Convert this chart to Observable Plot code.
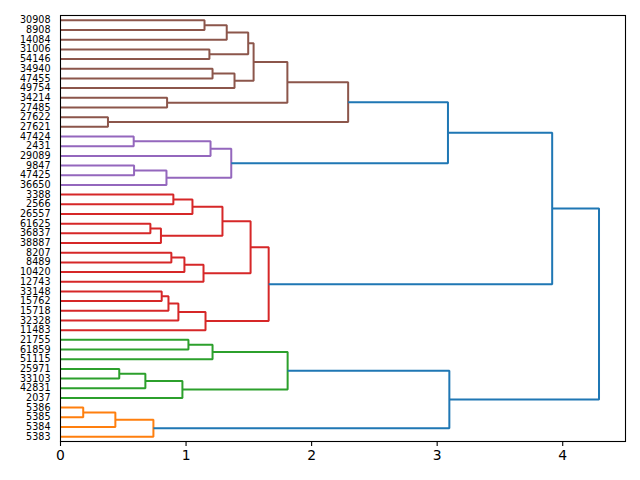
<!DOCTYPE html>
<html><head><meta charset="utf-8">
<script src="https://cdn.jsdelivr.net/npm/d3@7"></script>
<script src="https://cdn.jsdelivr.net/npm/@observablehq/plot@0.6"></script>
<style>body{margin:0;background:#fff} svg{display:block}</style>
</head><body><div id="chart"></div>
<script>
// Leaves, top to bottom
const leaves = ["30908","8908","14084","31006","54146","34940","47455","49754","34214","27485","27622","27621",
  "47424","2431","29089","9847","47425","36650",
  "3388","2566","26557","61625","36837","38887","8207","8489","10420","12743","33148","15762","15718","32328","11483",
  "21755","61859","51115","25971","33103","42831","2037",
  "5386","5385","5384","5383"];
// Linkage: node ids < 44 are leaves, 44+k is merge k
const mergeA = [0,44,3,45,5,48,47,8,50,10,52, 12,55,15,57,56, 54, 18,61,21,63,62,24,66,67,65,28,70,71,72,69, 60, 33,76,36,78,79,77, 40,82,83, 81,75];
const mergeB = [1,2,4,46,6,7,49,9,51,11,53, 13,14,16,17,58, 59, 19,20,22,23,64,25,26,27,68,29,30,31,32,73, 74, 34,35,37,38,39,80, 41,42,43, 84,85];
const mergeHeight = [1.147,1.324,1.186,1.495,1.211,1.386,1.538,0.849,1.807,0.378,2.291,
  0.583,1.195,0.586,0.844,1.360,
  3.086,
  0.899,1.051,0.716,0.800,1.290,0.883,0.987,1.139,1.514,0.806,0.860,0.939,1.155,1.658,
  3.916,
  1.019,1.211,0.468,0.676,0.971,1.809,
  0.181,0.437,0.740,
  3.097,4.289];
const mergeCluster = ["C5","C5","C5","C5","C5","C5","C5","C5","C5","C5","C5",
  "C4","C4","C4","C4","C4",
  "C0",
  "C3","C3","C3","C3","C3","C3","C3","C3","C3","C3","C3","C3","C3","C3",
  "C0",
  "C2","C2","C2","C2","C2","C2",
  "C1","C1","C1",
  "C0","C0"];
const xTicks = [0,1,2,3,4];
const clusters = ["C0","C1","C2","C3","C4","C5"];
const clusterColors = ["#1f77b4","#ff7f0e","#2ca02c","#d62728","#9467bd","#8c564b"];

const n = leaves.length;
const pos = leaves.map((_, i) => 5 + 10 * i);
const hgt = leaves.map(() => 0);
const rows = [];
mergeA.forEach((a, k) => {
  const b = mergeB[k], h = mergeHeight[k], c = mergeCluster[k];
  pos.push((pos[a] + pos[b]) / 2);
  hgt.push(h);
  [[hgt[a], pos[a]], [h, pos[a]], [h, pos[b]], [hgt[b], pos[b]]]
    .forEach(([x, y]) => rows.push({k, x, y, c}));
});

const chart = Plot.plot({
  width: 640, height: 480,
  marginLeft: 60, marginRight: 15, marginTop: 15, marginBottom: 39,
  style: {fontFamily: "DejaVu Sans", background: "white", color: "black"},
  x: {domain: [0, 4.5]},
  y: {domain: [0, 440], reverse: true},
  color: {domain: clusters, range: clusterColors},
  marks: [
    Plot.line(rows, {x: "x", y: "y", z: "k", stroke: "c", strokeWidth: 2, strokeLinejoin: "miter", strokeLinecap: "butt"}),
    Plot.axisX({ticks: xTicks, tickFormat: d3.format("d"), tickSize: 5, tickPadding: 4, fontSize: 13.9, label: null, strokeWidth: 1.1}),
    Plot.axisY({ticks: pos.slice(0, n), tickFormat: d => leaves[Math.round((d - 5) / 10)], tickSize: 0, tickPadding: 10, fontSize: 9.6, label: null}),
    Plot.frame({stroke: "black", strokeWidth: 1.1})
  ]
});
document.getElementById("chart").appendChild(chart);
</script>
</body></html>
